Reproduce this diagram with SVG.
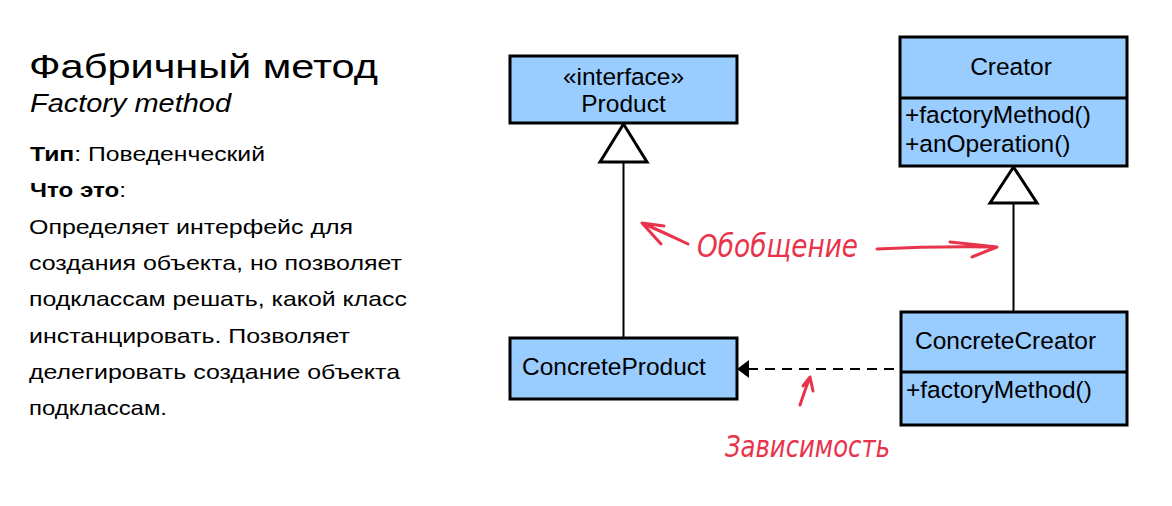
<svg xmlns="http://www.w3.org/2000/svg" width="1172" height="506" viewBox="0 0 1172 506">
<style>
.box{fill:#99ccff;stroke:#000;stroke-width:3}
.div{stroke:#000;stroke-width:3}
.t{font-family:"Liberation Sans",Arial,sans-serif;fill:#000}
.cls{font-size:24.5px}
.body{font-size:21px}
.tri{fill:#fff;stroke:#000;stroke-width:3;stroke-linejoin:miter}
.ln{stroke:#000;stroke-width:2;fill:none}
.red{stroke:#e8334a;stroke-width:3;fill:none;stroke-linecap:round;stroke-linejoin:round}
.hand{font-family:"DejaVu Sans",sans-serif;font-style:italic;fill:#e8334a}
</style>
<rect width="1172" height="506" fill="#fff"/>
<g id="description">
<text class="t" x="29" y="78" font-size="33" textLength="349" lengthAdjust="spacingAndGlyphs">Фабричный метод</text>
<text class="t" x="30" y="112" font-size="25" font-style="italic" textLength="201" lengthAdjust="spacingAndGlyphs">Factory method</text>
<text class="t body" x="30" y="161" textLength="235" lengthAdjust="spacingAndGlyphs"><tspan font-weight="bold">Тип</tspan>: Поведенческий</text>
<text class="t body" x="30" y="197" textLength="96" lengthAdjust="spacingAndGlyphs"><tspan font-weight="bold">Что это</tspan>:</text>
<text class="t body" x="29" y="234" textLength="324" lengthAdjust="spacingAndGlyphs">Определяет интерфейс для</text>
<text class="t body" x="29" y="270" textLength="373" lengthAdjust="spacingAndGlyphs">создания объекта, но позволяет</text>
<text class="t body" x="29" y="306" textLength="378" lengthAdjust="spacingAndGlyphs">подклассам решать, какой класс</text>
<text class="t body" x="29" y="343" textLength="321" lengthAdjust="spacingAndGlyphs">инстанцировать. Позволяет</text>
<text class="t body" x="29" y="379" textLength="371" lengthAdjust="spacingAndGlyphs">делегировать создание объекта</text>
<text class="t body" x="29" y="415" textLength="138" lengthAdjust="spacingAndGlyphs">подклассам.</text>
</g>
<g id="connectors">
<line class="ln" x1="623.5" y1="162" x2="623.5" y2="338"/>
<polygon class="tri" points="623.5,124 600,162 647,162"/>
<line class="ln" x1="1013.5" y1="203" x2="1013.5" y2="312"/>
<polygon class="tri" points="1013.5,167 990,203 1037,203"/>
<line class="ln" x1="748" y1="369" x2="901" y2="369" stroke-dasharray="10,7"/>
<polygon points="737,369 749,360 749,378" fill="#000"/>
</g>
<g id="Product">
<rect class="box" x="510" y="56" width="227" height="67"/>
<text class="t cls" x="623.5" y="85" text-anchor="middle">«interface»</text>
<text class="t cls" x="623.5" y="112" text-anchor="middle">Product</text>
</g>
<g id="Creator">
<rect class="box" x="900" y="37" width="227" height="129"/>
<line class="div" x1="900" y1="98" x2="1127" y2="98"/>
<text class="t cls" x="1011" y="75" text-anchor="middle">Creator</text>
<text class="t cls" x="905" y="123">+factoryMethod()</text>
<text class="t cls" x="905" y="152">+anOperation()</text>
</g>
<g id="ConcreteProduct">
<rect class="box" x="510" y="338" width="227" height="61"/>
<text class="t cls" x="522" y="375">ConcreteProduct</text>
</g>
<g id="ConcreteCreator">
<rect class="box" x="901" y="312" width="226" height="113"/>
<line class="div" x1="901" y1="372" x2="1127" y2="372"/>
<text class="t cls" x="915" y="349">ConcreteCreator</text>
<text class="t cls" x="906" y="398">+factoryMethod()</text>
</g>
<g id="annotations">
<path class="red" d="M688,244 Q665,233 642,223 M642,223 L664,226 M642,223 L661,244"/>
<text class="hand" x="697" y="257" font-size="32" textLength="161" lengthAdjust="spacingAndGlyphs">Обобщение</text>
<path class="red" d="M877,249 Q935,246 995,247 M950,242 L997,247 L972,257"/>
<path class="red" d="M800,405 Q805,390 810,377 M803,386 L810,377 L813,391"/>
<text class="hand" x="725" y="457" font-size="30" textLength="165" lengthAdjust="spacingAndGlyphs">Зависимость</text>
</g>
</svg>
